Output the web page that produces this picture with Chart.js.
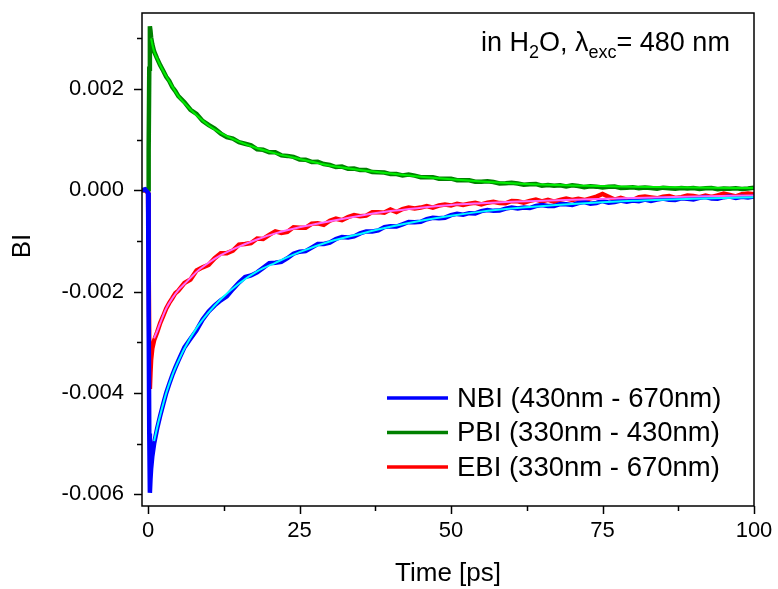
<!DOCTYPE html>
<html>
<head>
<meta charset="utf-8">
<script src="https://cdn.jsdelivr.net/npm/chart.js@4/dist/chart.umd.min.js"></script>
<style>
  html, body { margin: 0; padding: 0; background: #fff; }
  #wrap { width: 778px; height: 589px; }
</style>
</head>
<body>
<div id="wrap"><canvas id="bi" width="778" height="589"></canvas></div>
<script>
// all BI values below are in units of 1e-3
const timePs = [-1, -0.5, 0, 0.1, 0.2, 0.3, 0.4, 0.5, 0.7, 1, 1.5, 2, 2.5, 3, 3.5, 4, 4.5, 5,
  6, 7, 8, 9, 10, 11, 12, 13, 14, 15, 16, 17, 18, 19, 20, 21, 22, 23, 24, 25, 26, 27, 28, 29, 30,
  31, 32, 33, 34, 35, 36, 37, 38, 39, 40, 41, 42, 43, 44, 45, 46, 47, 48, 49, 50,
  51, 52, 53, 54, 55, 56, 57, 58, 59, 60, 61, 62, 63, 64, 65, 66, 67, 68, 69, 70,
  71, 72, 73, 74, 75, 76, 77, 78, 79, 80, 81, 82, 83, 84, 85, 86, 87, 88, 89, 90,
  91, 92, 93, 94, 95, 96, 97, 98, 99, 100];

const nbi = [0, 0.02, -0.05, -2.5, -4.8, -5.97, -5.7, -5.5, -5.25, -5.0, -4.7, -4.45, -4.22, -4.0, -3.82, -3.65, -3.5, -3.36,
  -3.10, -2.93, -2.76, -2.55, -2.39, -2.27, -2.17, -2.09, -1.95, -1.82, -1.71, -1.68, -1.62, -1.53, -1.44, -1.43, -1.41, -1.34, -1.25, -1.21, -1.20, -1.13, -1.06, -1.06, -1.03,
  -0.96, -0.92, -0.93, -0.91, -0.85, -0.81, -0.81, -0.79, -0.725, -0.71, -0.715, -0.67, -0.625, -0.63, -0.62, -0.57, -0.54, -0.55, -0.54, -0.49,
  -0.465, -0.48, -0.45, -0.455, -0.41, -0.39, -0.405, -0.40, -0.36, -0.34, -0.36, -0.34, -0.35, -0.31, -0.29, -0.31, -0.31, -0.27, -0.275, -0.29,
  -0.25, -0.23, -0.265, -0.25, -0.21, -0.245, -0.23, -0.20, -0.225, -0.20, -0.216, -0.182, -0.208, -0.184, -0.16, -0.186, -0.192, -0.158, -0.164, -0.18,
  -0.147, -0.134, -0.161, -0.168, -0.135, -0.122, -0.149, -0.126, -0.143, -0.12];

const pbi = [0, 0.01, 0.02, 0.8, 2.4, 3.24, 3.15, 3.02, 2.88, 2.74, 2.6, 2.47, 2.36, 2.24, 2.16, 2.04, 1.96, 1.86,
  1.74, 1.59, 1.51, 1.37, 1.29, 1.22, 1.12, 1.05, 1.02, 0.95, 0.92, 0.89, 0.81, 0.80, 0.75, 0.75, 0.69, 0.68, 0.66, 0.61, 0.605, 0.56, 0.565, 0.52, 0.50,
  0.46, 0.47, 0.425, 0.43, 0.40, 0.40, 0.36, 0.355, 0.35, 0.32, 0.32, 0.295, 0.31, 0.29, 0.26, 0.26, 0.26, 0.23, 0.23, 0.23,
  0.20, 0.20, 0.20, 0.17, 0.17, 0.18, 0.165, 0.135, 0.14, 0.15, 0.135, 0.11, 0.12, 0.125, 0.09, 0.105, 0.09, 0.098, 0.075, 0.10,
  0.087, 0.064, 0.081, 0.073, 0.055, 0.072, 0.074, 0.046, 0.053, 0.06, 0.044, 0.057, 0.046, 0.034, 0.053, 0.041, 0.03, 0.048, 0.037, 0.045,
  0.025, 0.039, 0.044, 0.023, 0.038, 0.032, 0.042, 0.026, 0.036, 0.05];

const ebi = [0, 0, -0.05, -1.5, -3.0, -3.92, -3.6, -3.35, -3.12, -2.96, -2.8, -2.62, -2.48, -2.33, -2.22, -2.13, -2.03, -1.98,
  -1.83, -1.76, -1.58, -1.52, -1.47, -1.34, -1.24, -1.24, -1.19, -1.07, -1.06, -1.04, -0.95, -0.96, -0.88, -0.81, -0.84, -0.82, -0.73, -0.74, -0.74, -0.66, -0.65, -0.68, -0.60,
  -0.56, -0.59, -0.53, -0.49, -0.51, -0.50, -0.43, -0.43, -0.44, -0.38, -0.43, -0.37, -0.34, -0.36, -0.34, -0.31, -0.34, -0.30, -0.28, -0.30,
  -0.264, -0.288, -0.262, -0.246, -0.28, -0.244, -0.228, -0.252, -0.256, -0.21, -0.216, -0.242, -0.208, -0.184, -0.22, -0.186, -0.222, -0.188, -0.164, -0.19,
  -0.166, -0.192, -0.158, -0.124, -0.07, -0.126, -0.182, -0.148, -0.184, -0.19, -0.137, -0.124, -0.141, -0.158, -0.125, -0.112, -0.149, -0.136, -0.103, -0.11,
  -0.137, -0.104, -0.131, -0.098, -0.065, -0.092, -0.119, -0.076, -0.063, -0.08];

// fitted curves
const fitTime = [0.5, 0.7, 1, 1.5, 2, 3, 4, 5, 6, 8, 10, 12, 15, 18, 21, 25, 30, 35, 40, 45, 50, 55, 60, 70, 80, 90, 100];
const nbiFit = [null, null, -4.95, -4.68, -4.44, -4.0, -3.65, -3.37, -3.12, -2.72, -2.41, -2.15, -1.84, -1.60, -1.43, -1.22, -1.01, -0.86, -0.72, -0.60, -0.50, -0.42, -0.36, -0.27, -0.205, -0.165, -0.135];
const pbiFit = [3.0, 2.88, 2.74, 2.6, 2.47, 2.25, 2.05, 1.86, 1.72, 1.48, 1.28, 1.13, 0.96, 0.83, 0.73, 0.62, 0.49, 0.40, 0.33, 0.27, 0.22, 0.175, 0.14, 0.095, 0.07, 0.055, 0.045];
const ebiFit = [null, null, -2.92, -2.78, -2.62, -2.33, -2.13, -1.97, -1.85, -1.61, -1.43, -1.28, -1.11, -0.97, -0.85, -0.73, -0.61, -0.50, -0.41, -0.345, -0.29, -0.255, -0.225, -0.185, -0.15, -0.12, -0.1];

const xTicks = [0, 12.5, 25, 37.5, 50, 62.5, 75, 87.5, 100];
const yTicks = [-6, -5, -4, -3, -2, -1, 0, 1, 2, 3];

const FONT = "'Liberation Sans', Arial, sans-serif";

const pts = (xs, ys) => xs.map((x, i) => ({ x: x, y: ys[i] }));

function dataSet(label, values, color) {
  return { label, data: pts(timePs, values), borderColor: color, borderWidth: 4.5,
    pointRadius: 0, tension: 0, order: 1, isData: true };
}
function fitSet(values, color) {
  return { label: 'fit', data: pts(fitTime, values), borderColor: color, borderWidth: 2,
    pointRadius: 0, cubicInterpolationMode: 'monotone', spanGaps: false, order: 0 };
}

// frame, tick marks, y title, annotation and legend
const decor = {
  id: 'decor',
  afterDraw(chart) {
    const { ctx, chartArea: a, scales } = chart;
    ctx.save();
    ctx.strokeStyle = '#000';
    ctx.lineWidth = 1.5;
    ctx.strokeRect(a.left, a.top, a.right - a.left, a.bottom - a.top);

    yTicks.forEach(v => {
      const y = Math.round(scales.y.getPixelForValue(v)) + 0.5;
      const len = v % 2 === 0 ? 8 : 5;
      ctx.beginPath(); ctx.moveTo(a.left - len, y); ctx.lineTo(a.left, y); ctx.stroke();
    });
    xTicks.forEach(v => {
      const x = Math.round(scales.x.getPixelForValue(v)) + 0.5;
      const len = v % 25 === 0 ? 8 : 5;
      ctx.beginPath(); ctx.moveTo(x, a.bottom); ctx.lineTo(x, a.bottom + len); ctx.stroke();
    });

    ctx.fillStyle = '#000';

    // y axis title
    ctx.save();
    ctx.translate(23, 246);
    ctx.rotate(-Math.PI / 2);
    ctx.font = '26px ' + FONT;
    ctx.textAlign = 'center';
    ctx.textBaseline = 'middle';
    ctx.fillText('BI', 0, 0);
    ctx.restore();

    // annotation: in H2O, λexc = 480 nm
    ctx.textBaseline = 'alphabetic';
    let x = 481;
    const base = 51;
    const part = (txt, size, dy) => {
      ctx.font = size + 'px ' + FONT;
      ctx.fillText(txt, x, base + dy);
      x += ctx.measureText(txt).width;
    };
    part('in H', 27, 0);
    part('2', 18, 7);
    part('O, \u03BB', 27, 0);
    part('exc', 18, 7);
    part('= 480 nm', 27, 0);

    // legend
    ctx.font = '27.5px ' + FONT;
    ctx.textBaseline = 'middle';
    chart.data.datasets.filter(d => d.isData).forEach((d, i) => {
      const y = 398 + i * 34.5;
      ctx.strokeStyle = d.borderColor;
      ctx.lineWidth = 3.5;
      ctx.beginPath(); ctx.moveTo(387, y); ctx.lineTo(448, y); ctx.stroke();
      ctx.fillStyle = '#000';
      ctx.fillText(d.label, 457, y + 1);
    });
    ctx.restore();
  }
};

new Chart(document.getElementById('bi').getContext('2d'), {
  type: 'line',
  data: {
    datasets: [
      dataSet('NBI (430nm - 670nm)', nbi, '#0000ff'),
      dataSet('PBI (330nm - 430nm)', pbi, '#008000'),
      dataSet('EBI (330nm - 670nm)', ebi, '#ff0000'),
      fitSet(nbiFit, '#00ffff'),
      fitSet(pbiFit, '#00ee00'),
      fitSet(ebiFit, '#ff66ff')
    ]
  },
  options: {
    responsive: false,
    animation: false,
    layout: { padding: { top: 13, right: 24, left: 0, bottom: 0 } },
    plugins: { legend: { display: false }, tooltip: { enabled: false } },
    scales: {
      x: {
        type: 'linear', min: -1, max: 100,
        afterBuildTicks: s => { s.ticks = xTicks.map(v => ({ value: v })); },
        afterFit: s => { s.height = 83; s.paddingLeft = 0; s.paddingRight = 0; },
        grid: { display: false, drawTicks: false },
        border: { display: false },
        ticks: { color: '#000', font: { family: FONT, size: 22 }, padding: 12, maxRotation: 0, autoSkip: false,
          callback: v => (v % 25 === 0 ? String(v) : '') },
        title: { display: true, text: 'Time [ps]', color: '#000', font: { family: FONT, size: 26 },
          padding: { top: 0, bottom: 0 } }
      },
      y: {
        type: 'linear', min: -6.23, max: 3.5,
        afterBuildTicks: s => { s.ticks = yTicks.map(v => ({ value: v })); },
        afterFit: s => { s.width = 142; s.paddingTop = 0; s.paddingBottom = 0; },
        grid: { display: false, drawTicks: false },
        border: { display: false },
        ticks: { color: '#000', font: { family: FONT, size: 22 }, padding: 18, autoSkip: false,
          callback: v => (v % 2 === 0 ? (v / 1000).toFixed(3) : '') },
        title: { display: false }
      }
    }
  },
  plugins: [decor]
});
</script>
</body>
</html>
